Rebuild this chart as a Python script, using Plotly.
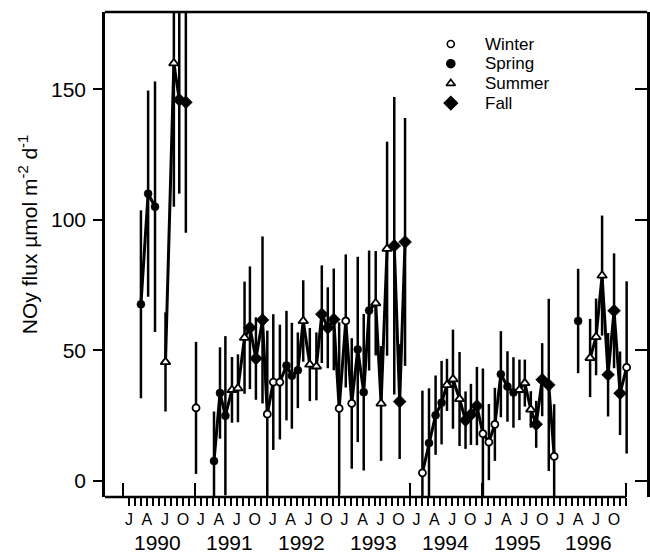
import plotly.graph_objects as go

# Sample position, in months after 1 Jan 1990 (None flux = no sample, breaks the line)
month_pos = [
    2.0, 3.2, 4.35, 5.2, 6.1, 7.5, 8.4, 9.5, 10.3, 11.2, 12.7,
    14.2, 15.2, 16.1, 17.2, 18.2, 19.3, 20.2, 21.2, 22.3, 23.1,
    24.1, 25.2, 26.3, 27.2, 28.2, 29.1, 30.2, 31.3, 32.2, 33.2, 34.2, 35.1,
    36.2, 37.2, 38.2, 39.2, 40.1, 41.2, 42.1, 43.1, 44.3, 45.2, 46.1, 47.5,
    49.0, 50.1, 51.2, 52.2, 53.1, 54.1, 55.2, 56.2, 57.1, 58.1, 59.1,
    60.1, 61.1, 62.1, 63.2, 64.2, 65.2, 66.1, 67.1, 68.0, 69.0, 70.1, 71.0,
    73.0, 75.0, 76.0, 77.0, 78.0, 79.0, 80.0, 81.0, 82.0, 83.1,
]

# NOy flux (umol m-2 d-1)
flux = [
    67.6, 110, 105, None, 45.5, 160, 146, 145, None, 27.9, None,
    7.5, 33.6, 24.9, 34.8, 35.4, 54.8, 58.6, 46.8, 61.6, 25.5,
    37.8, 37.8, 44.1, 40.2, 42.3, 61.2, 44.5, 43.8, 63.8, 58.6, 61.8, 27.7,
    61.2, 29.6, 50.3, 33.9, 65.2, 68.0, 29.6, 88.9, 90.0, 30.3, 91.5, None,
    3.0, 14.4, 25.1, 29.9, 36.7, 38.9, 31.3, 23.2, 25.4, 28.6, 18.0,
    14.8, 21.6, 40.8, 36.1, 33.8, 34.8, 37.4, 27.3, 21.6, 38.7, 36.7, 9.3,
    None, 61.2, None, 47.0, 55.1, 78.6, 40.6, 65.1, 33.5, 43.4,
]

# Uncertainty of each flux estimate
flux_err = [
    36, 39.5, 48, 0, 19, 55, 36, 50, 0, 25.3, 0,
    19, 17.5, 30.5, 12.6, 13, 21.5, 23.5, 15.8, 32, 32,
    26, 22, 21, 20.3, 14.5, 15.6, 14, 13, 18.7, 15.5, 19.5, 33,
    25.5, 25, 35.5, 30, 23, 20, 22, 41, 57, 22, 47.5, 0,
    31.5, 21, 15.2, 16, 10, 19, 18, 11, 11.7, 15, 25,
    14.6, 14, 16.5, 13.5, 13.5, 11.6, 9, 7, 9, 14, 33, 20,
    0, 20, 0, 15, 14.7, 23, 16, 22, 16, 33,
]

years = [1990, 1991, 1992, 1993, 1994, 1995, 1996]
quarter_letters = ["J", "A", "J", "O"]
seasons = ["Winter", "Spring", "Summer", "Fall"]

FONT = "Liberation Sans, Arial, Helvetica, sans-serif"

# marker look for each season (size/outline in the plot, size in the key)
season_style = {
    "Winter": dict(symbol="circle", fill="white", size=7, lw=1.8, lsize=7),
    "Spring": dict(symbol="circle", fill="black", size=8, lw=0.5, lsize=8),
    "Summer": dict(symbol="triangle-up", fill="white", size=8.5, lw=1.8, lsize=8),
    "Fall": dict(symbol="diamond", fill="black", size=10, lw=0.5, lsize=10),
}


def season_of(m):
    mon = int(m) % 12
    if mon in (11, 0, 1):
        return "Winter"
    if mon in (2, 3, 4):
        return "Spring"
    if mon in (5, 6, 7):
        return "Summer"
    return "Fall"


pt_season = [season_of(m) for m in month_pos]

fig = go.Figure()

fig.add_trace(go.Scatter(
    x=month_pos, y=flux,
    mode="lines+markers",
    line=dict(color="black", width=3),
    marker=dict(
        symbol=[season_style[s]["symbol"] for s in pt_season],
        color=[season_style[s]["fill"] for s in pt_season],
        size=[season_style[s]["size"] for s in pt_season],
        opacity=1,
        line=dict(color="black", width=[season_style[s]["lw"] for s in pt_season]),
    ),
    error_y=dict(type="data", array=flux_err, visible=True,
                 width=0, thickness=2.5, color="black"),
    connectgaps=False,
    showlegend=False,
    hoverinfo="x+y",
))

# helper traces so the overlay axes (inside ticks) get drawn
fig.add_trace(go.Scatter(x=[None], y=[None], xaxis="x2", yaxis="y",
                         showlegend=False, hoverinfo="skip"))
fig.add_trace(go.Scatter(x=[None], y=[None], xaxis="x", yaxis="y2",
                         showlegend=False, hoverinfo="skip"))

# season key, drawn on a hidden 0..1 overlay in the upper right of the panel
key_x, key_text_x, key_top, key_step = 0.638, 0.697, 0.934, 0.0406
key_y = [key_top - i * key_step for i in range(len(seasons))]
fig.add_trace(go.Scatter(
    x=[key_x] * len(seasons), y=key_y, xaxis="x3", yaxis="y3",
    mode="markers", showlegend=False, hoverinfo="skip",
    marker=dict(
        symbol=[season_style[s]["symbol"] for s in seasons],
        color=[season_style[s]["fill"] for s in seasons],
        size=[season_style[s]["lsize"] for s in seasons],
        opacity=1,
        line=dict(color="black", width=1.6),
    ),
))

n_months = 12 * len(years)
month_ticks = list(range(n_months))
month_text = [quarter_letters[m % 12 // 3] if m % 3 == 0 else "" for m in month_ticks]
year_edges = [12 * k - 1 for k in range(len(years) + 1)]

x_range = [-4.0, 86.5]
y_range = [-6.25, 179.6]
y_ticks = [0, 50, 100, 150]

fig.update_layout(
    width=650, height=553,
    margin=dict(l=105, r=3, t=12, b=56, autoexpand=False),
    paper_bgcolor="white", plot_bgcolor="white",
    font=dict(family=FONT, color="black"),
    showlegend=False,
    xaxis=dict(
        range=x_range, tickmode="array", tickvals=month_ticks, ticktext=month_text,
        ticks="outside", ticklen=8, tickwidth=1.5, tickcolor="black",
        tickfont=dict(size=16), showgrid=False, zeroline=False, showline=False,
    ),
    xaxis2=dict(
        range=x_range, overlaying="x", anchor="y", side="bottom",
        tickmode="array", tickvals=year_edges, ticks="inside", ticklen=14,
        tickwidth=2, tickcolor="black", showticklabels=False,
        showgrid=False, zeroline=False, showline=False,
    ),
    xaxis3=dict(range=[0, 1], overlaying="x", anchor="y3", visible=False),
    yaxis=dict(
        range=y_range, tickmode="array", tickvals=y_ticks,
        ticks="outside", ticklen=9, tickwidth=2, tickcolor="black",
        tickfont=dict(size=21), showgrid=False, zeroline=False,
        showline=True, linewidth=2.5, linecolor="black", ticklabelstandoff=3,
    ),
    yaxis2=dict(
        range=y_range, overlaying="y", anchor="x", side="right",
        tickmode="array", tickvals=y_ticks, ticks="inside", ticklen=12,
        tickwidth=2, tickcolor="black", showticklabels=False,
        showgrid=False, zeroline=False, showline=True, linewidth=2.5,
        linecolor="black",
    ),
    yaxis3=dict(range=[0, 1], overlaying="y", anchor="x3", visible=False),
    shapes=[
        dict(type="line", xref="paper", yref="paper", x0=0, x1=1, y0=1, y1=1,
             line=dict(color="black", width=2.5)),
        dict(type="line", xref="x", yref="paper", x0=x_range[0], x1=month_ticks[-1],
             y0=0, y1=0, line=dict(color="black", width=2.5)),
    ],
)

annotations = [
    dict(text="NOy flux \u00b5mol m<sup>-2</sup> d<sup>-1</sup>", textangle=-90,
         xref="paper", yref="paper", x=-0.142, y=0.54,
         xanchor="center", yanchor="middle", showarrow=False,
         font=dict(size=21)),
]
for i, yr in enumerate(years):
    annotations.append(dict(
        text=str(yr), xref="x", yref="paper", x=12 * i + 4.8, y=-0.0948,
        xanchor="center", yanchor="middle", showarrow=False,
        font=dict(size=21)))
for s, yk in zip(seasons, key_y):
    annotations.append(dict(
        text=s, xref="paper", yref="paper", x=key_text_x, y=yk,
        xanchor="left", yanchor="middle", showarrow=False,
        font=dict(size=17)))
fig.update_layout(annotations=annotations)

fig.write_html("out.html")
